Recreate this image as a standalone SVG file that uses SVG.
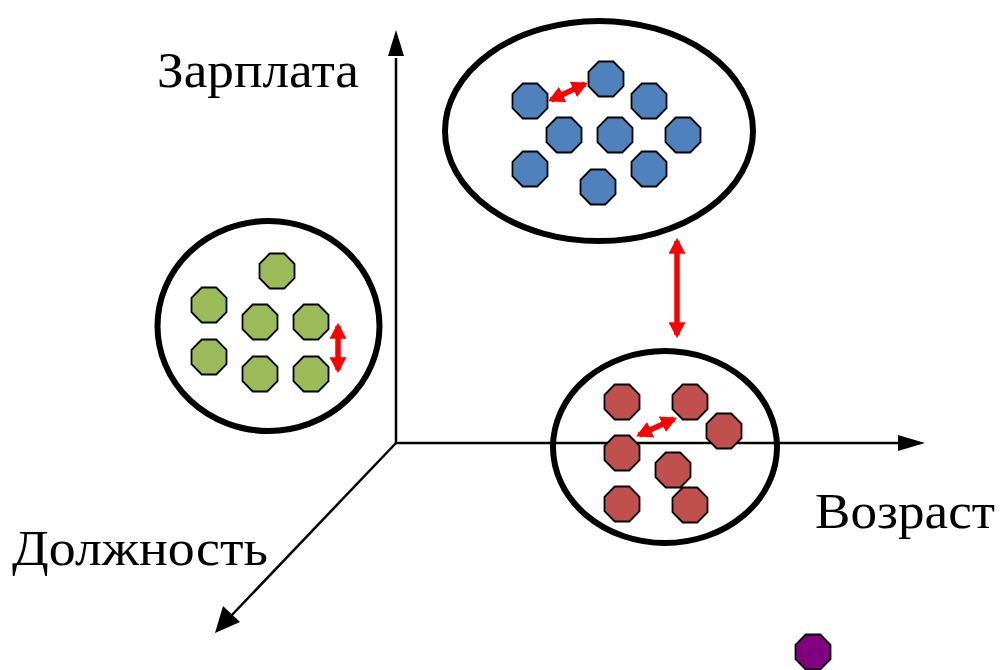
<svg xmlns="http://www.w3.org/2000/svg" width="1000" height="670" viewBox="0 0 1000 670">
  <style>
    .cluster { fill: none; stroke: #000; stroke-width: 6; }
    .axis { stroke: #000; stroke-width: 2.5; fill: none; }
    .oct { stroke: #000; stroke-width: 1.8; }
    .blue { fill: #4F81BD; }
    .green { fill: #9BBB59; }
    .red { fill: #C0504D; }
    .purple { fill: #800080; }
    .dist { stroke: #FF0000; stroke-width: 5.5; fill: none; }
    .label { font-family: "Times New Roman", "Liberation Serif", Tinos, "DejaVu Serif", serif; font-size: 50px; fill: #000; }
  </style>
  <defs>
    <polygon id="oct" points="-7.25,-17.5 7.25,-17.5 17.5,-7.25 17.5,7.25 7.25,17.5 -7.25,17.5 -17.5,7.25 -17.5,-7.25"/>
    <marker id="redHead" viewBox="0 0 10 10" refX="8" refY="5" markerWidth="16" markerHeight="17" markerUnits="userSpaceOnUse" orient="auto-start-reverse" preserveAspectRatio="none">
      <path d="M0,0 L10,5 L0,10 Z" fill="#FF0000"/>
    </marker>
  </defs>

  <!-- axes -->
  <g id="axes">
    <line class="axis" x1="396" y1="444" x2="396" y2="58"/>
    <polygon points="396,30 388,56 404,56" fill="#000"/>
    <line class="axis" x1="396" y1="443" x2="900" y2="443"/>
    <polygon points="925,443 898,435 898,451" fill="#000"/>
    <line class="axis" x1="396" y1="443" x2="230" y2="617"/>
    <polygon points="215,633 223,606 240,622" fill="#000"/>
  </g>

  <!-- axis labels -->
  <g id="labels">
    <text class="label" x="157" y="87" textLength="202" lengthAdjust="spacingAndGlyphs">Зарплата</text>
    <text class="label" x="815" y="528" textLength="180" lengthAdjust="spacingAndGlyphs">Возраст</text>
    <text class="label" x="12" y="565" textLength="256" lengthAdjust="spacingAndGlyphs">Должность</text>
  </g>

  <!-- blue cluster -->
  <g id="cluster-blue">
    <ellipse class="cluster" cx="599" cy="131" rx="154" ry="110"/>
    <use href="#oct" class="oct blue" x="530" y="101"/>
    <use href="#oct" class="oct blue" x="606" y="79"/>
    <use href="#oct" class="oct blue" x="649" y="101"/>
    <use href="#oct" class="oct blue" x="564" y="135"/>
    <use href="#oct" class="oct blue" x="615" y="135"/>
    <use href="#oct" class="oct blue" x="683" y="135"/>
    <use href="#oct" class="oct blue" x="530" y="169"/>
    <use href="#oct" class="oct blue" x="649" y="169"/>
    <use href="#oct" class="oct blue" x="598" y="187"/>
  </g>

  <!-- green cluster -->
  <g id="cluster-green">
    <ellipse class="cluster" cx="268.5" cy="326" rx="111" ry="105"/>
    <use href="#oct" class="oct green" x="277" y="271"/>
    <use href="#oct" class="oct green" x="209" y="305"/>
    <use href="#oct" class="oct green" x="260" y="322"/>
    <use href="#oct" class="oct green" x="311" y="322"/>
    <use href="#oct" class="oct green" x="209" y="357"/>
    <use href="#oct" class="oct green" x="260" y="374"/>
    <use href="#oct" class="oct green" x="311" y="374"/>
  </g>

  <!-- red cluster -->
  <g id="cluster-red">
    <ellipse class="cluster" cx="665" cy="447" rx="112" ry="96"/>
    <use href="#oct" class="oct red" x="622" y="402"/>
    <use href="#oct" class="oct red" x="690" y="402"/>
    <use href="#oct" class="oct red" x="724" y="431"/>
    <use href="#oct" class="oct red" x="622" y="453"/>
    <use href="#oct" class="oct red" x="673" y="470"/>
    <use href="#oct" class="oct red" x="622" y="504"/>
    <use href="#oct" class="oct red" x="690" y="505"/>
  </g>

  <!-- outlier -->
  <g id="outlier">
    <use href="#oct" class="oct purple" x="813" y="652"/>
  </g>

  <!-- distance arrows -->
  <g id="distances">
    <line class="dist" x1="551" y1="100" x2="585" y2="84" marker-start="url(#redHead)" marker-end="url(#redHead)"/>
    <line class="dist" x1="338" y1="326" x2="338" y2="370" marker-start="url(#redHead)" marker-end="url(#redHead)"/>
    <line class="dist" x1="639" y1="435" x2="674" y2="419" marker-start="url(#redHead)" marker-end="url(#redHead)"/>
    <line class="dist" x1="677" y1="241" x2="677" y2="335" marker-start="url(#redHead)" marker-end="url(#redHead)"/>
  </g>
</svg>
